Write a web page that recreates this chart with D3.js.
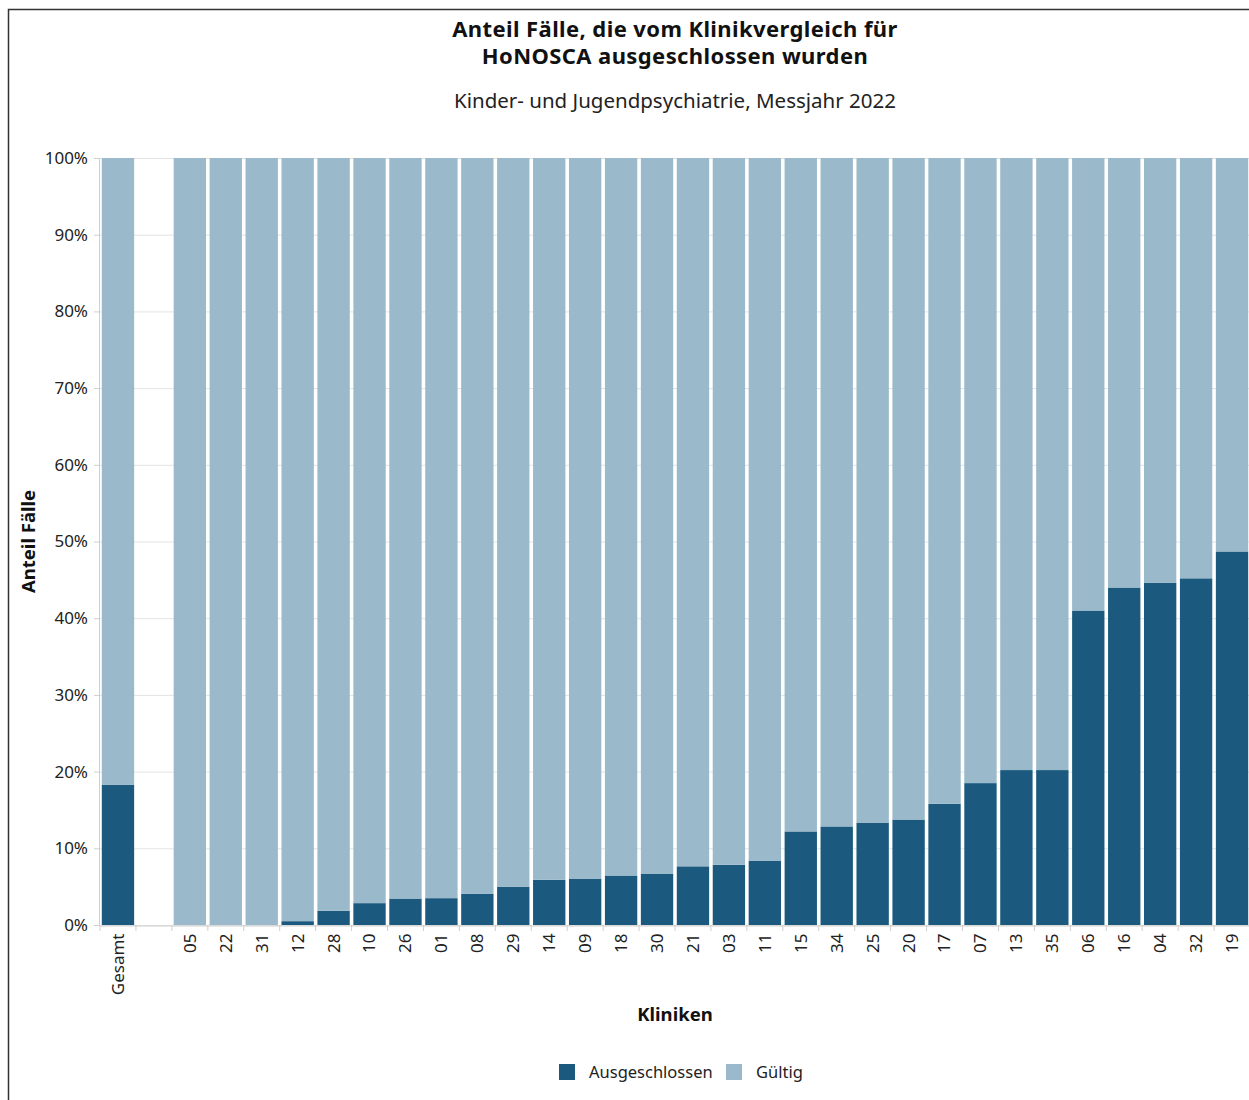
<!DOCTYPE html>
<html>
<head>
<meta charset="utf-8">
<script src="https://cdn.jsdelivr.net/npm/d3@7"></script>
<style>
  body { margin: 0; background: #fff; }
  svg { display: block; font-family: "Noto Sans", "Open Sans", sans-serif; }
  .tick text { fill: #222; }
</style>
</head>
<body>
<svg id="chart" width="1249" height="1100"></svg>
<script>
'use strict'

// Kliniken in Reihenfolge; '' ist die Leerspalte nach "Gesamt"
const kliniken = ['Gesamt', '', '05', '22', '31', '12', '28', '10', '26', '01', '08', '29', '14', '09', '18', '30',
    '21', '03', '11', '15', '34', '25', '20', '17', '07', '13', '35', '06', '16', '04', '32', '19']
// Anteil ausgeschlossener Fälle in %
const ausgeschlossen = [18.3, null, 0, 0, 0, 0.5, 1.85, 2.85, 3.45, 3.5, 4.05, 5.0, 5.9, 6.05, 6.45, 6.65,
    7.65, 7.85, 8.35, 12.2, 12.85, 13.35, 13.75, 15.8, 18.5, 20.2, 20.2, 41.0, 44.0, 44.6, 45.2, 48.7]
const serien = ['Ausgeschlossen', 'Gültig']
const farben = ['#1b5a7e', '#9ab9cb']
const yTicks = [0, 10, 20, 30, 40, 50, 60, 70, 80, 90, 100]

const svg = d3.select('#chart')
const margin = { top: 158, left: 100, bottom: 925, right: 1250 }

// Rahmen oben und links
svg.append('path').attr('d', 'M8.5,1100 V9.5 H1249').attr('fill', 'none').attr('stroke', '#333').attr('stroke-width', 1.5)

let rows = kliniken.map((k, i) => ({ id: i, label: k, Ausgeschlossen: ausgeschlossen[i], 'Gültig': ausgeschlossen[i] === null ? null : 100 - ausgeschlossen[i] }))

let x = d3.scaleBand().domain(rows.map(d => d.id)).range([margin.left, margin.right]).paddingInner(0.1).paddingOuter(0.05)
let y = d3.scaleLinear().domain([0, 100]).range([margin.bottom, margin.top])
let color = d3.scaleOrdinal().domain(serien).range(farben)

// Gitterlinien
svg.append('g').selectAll('line').data(yTicks).enter().append('line')
    .attr('x1', margin.left).attr('x2', margin.right)
    .attr('y1', d => y(d) + 0.5).attr('y2', d => y(d) + 0.5)
    .attr('stroke', '#e3e3e3').attr('stroke-width', 1)

// gestapelte Balken
let stack = d3.stack().keys(serien)(rows.filter(d => d.Ausgeschlossen !== null))

svg.append('g').selectAll('g').data(stack).enter().append('g')
    .attr('fill', d => color(d.key))
    .selectAll('rect').data(d => d).enter().append('rect')
    .attr('x', d => x(d.data.id))
    .attr('width', x.bandwidth())
    .attr('y', d => y(d[1]))
    .attr('height', d => y(d[0]) - y(d[1]))

// y-Achse
let yAxis = svg.append('g').attr('transform', `translate(${margin.left - 1},0)`)
    .call(d3.axisLeft(y).tickValues(yTicks).tickFormat(d => d + '%').tickSize(5).tickPadding(6))
yAxis.select('.domain').attr('stroke', '#cfcfcf')
yAxis.selectAll('.tick line').attr('stroke', '#cfcfcf')
yAxis.selectAll('.tick text').attr('font-size', '17px').attr('font-family', '"Noto Sans", sans-serif')

// x-Achse
let xAxis = svg.append('g').attr('transform', `translate(0,${margin.bottom + 0.5})`)
    .call(d3.axisBottom(x).tickFormat(i => kliniken[i]).tickSize(0).tickPadding(0))
xAxis.select('.domain').attr('stroke', '#cfcfcf')
xAxis.selectAll('.tick text')
    .attr('font-size', '17px').attr('font-family', '"Noto Sans", sans-serif')
    .attr('text-anchor', 'end').attr('dy', '0.35em')
    .attr('transform', 'translate(0,8) rotate(-90)')

// Striche an den Bandgrenzen
let step = x.step()
svg.append('g').selectAll('line').data(d3.range(kliniken.length)).enter().append('line')
    .attr('x1', d => x(d) - step * x.paddingInner() / 2).attr('x2', d => x(d) - step * x.paddingInner() / 2)
    .attr('y1', margin.bottom).attr('y2', margin.bottom + 6)
    .attr('stroke', '#cfcfcf')

// Titel
let cx = (margin.left + margin.right) / 2
let titelZeilen = ['Anteil Fälle, die vom Klinikvergleich für', 'HoNOSCA ausgeschlossen wurden']
titelZeilen.forEach((t, i) => {
    svg.append('text').attr('x', cx).attr('y', 37 + i * 27).attr('text-anchor', 'middle')
        .attr('font-weight', 'bold').attr('font-size', '22px').attr('letter-spacing', '0.4px').attr('fill', '#111')
        .text(t)
})

svg.append('text').attr('x', cx).attr('y', 108).attr('text-anchor', 'middle')
    .attr('font-size', '20.5px').attr('fill', '#222')
    .text('Kinder- und Jugendpsychiatrie, Messjahr 2022')

// Achsentitel
svg.append('text').attr('transform', `translate(35,${(margin.top + margin.bottom) / 2}) rotate(-90)`)
    .attr('text-anchor', 'middle').attr('font-weight', 'bold').attr('font-size', '18.5px').attr('fill', '#111')
    .text('Anteil Fälle')

svg.append('text').attr('x', cx).attr('y', 1021).attr('text-anchor', 'middle')
    .attr('font-weight', 'bold').attr('font-size', '18.5px').attr('fill', '#111')
    .text('Kliniken')

// Legende
let legend = svg.append('g').attr('transform', 'translate(559,1064)')
let lx = [0, 167]
serien.forEach((s, i) => {
    legend.append('rect').attr('x', lx[i]).attr('y', 0).attr('width', 16).attr('height', 16).attr('fill', color(s))
    legend.append('text').attr('x', lx[i] + 30).attr('y', 14).attr('font-size', '16.5px').attr('fill', '#222').text(s)
})
</script>
</body>
</html>
